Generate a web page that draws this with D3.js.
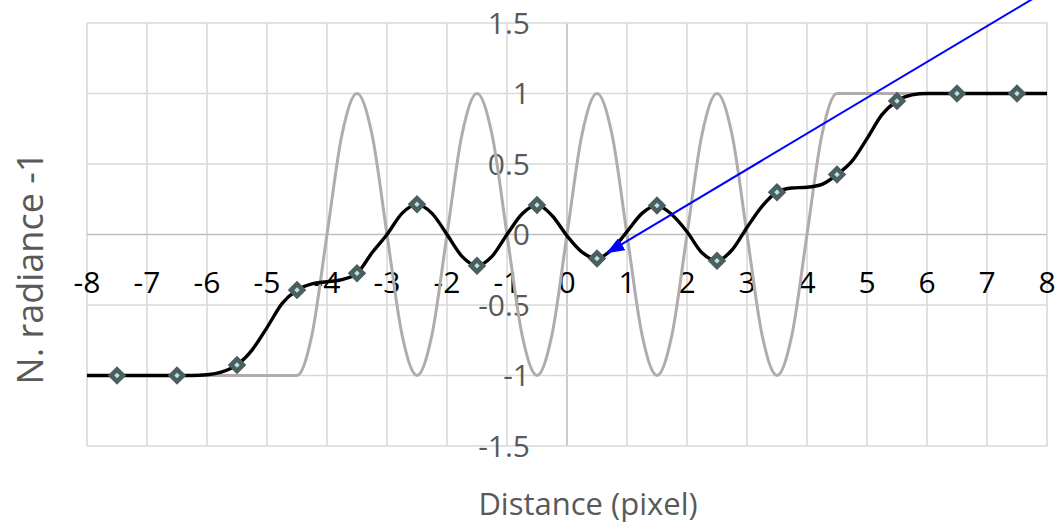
<!DOCTYPE html>
<html>
<head>
<meta charset="utf-8">
<script src="https://cdn.jsdelivr.net/npm/d3@7/dist/d3.min.js"></script>
<style>
  body { margin: 0; background: #ffffff; }
  svg { display: block; }
  text { font-family: "Open Sans", "Liberation Sans", sans-serif; }
</style>
</head>
<body>
<svg id="chart" width="1059" height="525"></svg>
<script>
// Sample positions along the profile (pixels)
const distance = [
  -8, -7.75, -7.5, -7.25, -7, -6.75, -6.5, -6.25,
  -6, -5.75, -5.5, -5.25, -5, -4.75, -4.5, -4.25,
  -4, -3.75, -3.5, -3.25, -3, -2.75, -2.5, -2.25,
  -2, -1.75, -1.5, -1.25, -1, -0.75, -0.5, -0.25,
  0, 0.25, 0.5, 0.75, 1, 1.25, 1.5, 1.75,
  2, 2.25, 2.5, 2.75, 3, 3.25, 3.5, 3.75,
  4, 4.25, 4.5, 4.75, 5, 5.25, 5.5, 5.75,
  6, 6.25, 6.5, 6.75, 7, 7.25, 7.5, 7.75, 8
];

// Original (unfiltered) edge pattern, grey line
const ideal = [
  -1, -1, -1, -1, -1, -1, -1, -1,
  -1, -1, -1, -1, -1, -1, -1, -0.71,
  0, 0.71, 1, 0.71, 0, -0.71, -1, -0.71,
  0, 0.71, 1, 0.71, 0, -0.71, -1, -0.71,
  0, 0.71, 1, 0.71, 0, -0.71, -1, -0.71,
  0, 0.71, 1, 0.71, 0, -0.71, -1, -0.71,
  0, 0.71, 1, 1, 1, 1, 1, 1,
  1, 1, 1, 1, 1, 1, 1, 1, 1
];

// Sampled / filtered radiance, black line
const filtered = [
  -1, -1, -1, -1, -1, -1, -1, -1,
  -0.995, -0.975, -0.925, -0.82, -0.66, -0.49, -0.394, -0.35,
  -0.335, -0.32, -0.275, -0.13, 0, 0.15, 0.214, 0.15,
  0, -0.155, -0.221, -0.155, 0, 0.145, 0.21, 0.135,
  -0.01, -0.125, -0.17, -0.105, 0.02, 0.15, 0.205, 0.14,
  0.02, -0.13, -0.186, -0.11, 0.05, 0.2, 0.30, 0.33,
  0.335, 0.355, 0.425, 0.52, 0.68, 0.85, 0.947, 0.99,
  1, 1, 1, 1, 1, 1, 1, 1, 1
];

// Pixel centres where the samples are marked
const sampleCentres = [-7.5, -6.5, -5.5, -4.5, -3.5, -2.5, -1.5, -0.5,
                       0.5, 1.5, 2.5, 3.5, 4.5, 5.5, 6.5, 7.5];

// Axis ticks and labels
const xTickValues = [-8, -7, -6, -5, -4, -3, -2, -1, 0, 1, 2, 3, 4, 5, 6, 7, 8];
const xTickLabels = ["-8", "-7", "-6", "-5", "-4", "-3", "-2", "-1", "0",
                     "1", "2", "3", "4", "5", "6", "7", "8"];
const yTickValues = [1.5, 1, 0.5, 0, -0.5, -1, -1.5];
const yTickLabels = ["1.5", "1", "0.5", "0", "-0.5", "-1", "-1.5"];

// Callout arrow pointing at the sample at 0.5 px (data units)
const arrowFrom = [7.93, 1.714];
const arrowTo = [0.67, -0.13];

const svg = d3.select("#chart");

const x = d3.scaleLinear().domain([-8, 8]).range([87, 1047]);
const y = d3.scaleLinear().domain([-1.5, 1.5]).range([446, 23]);

const gridColor = "#d9d9d9";
const axisColor = "#bfbfbf";
const labelGrey = "#595959";

// Gridlines
const grid = svg.append("g");
grid.selectAll("line.v").data(xTickValues).join("line")
  .attr("x1", d => x(d)).attr("x2", d => x(d))
  .attr("y1", y(1.5)).attr("y2", y(-1.5))
  .attr("stroke", d => d === 0 ? axisColor : gridColor)
  .attr("stroke-width", 1.6);
grid.selectAll("line.h").data(yTickValues).join("line")
  .attr("y1", d => y(d)).attr("y2", d => y(d))
  .attr("x1", x(-8)).attr("x2", x(8))
  .attr("stroke", d => d === 0 ? axisColor : gridColor)
  .attr("stroke-width", 1.6);

// Tick labels
svg.append("g").selectAll("text").data(xTickValues).join("text")
  .attr("x", d => x(d))
  .attr("y", y(0) + 58.5)
  .attr("text-anchor", "middle")
  .attr("font-size", 30)
  .attr("fill", "#000000")
  .text((d, i) => xTickLabels[i]);

svg.append("g").selectAll("text").data(yTickValues).join("text")
  .attr("x", x(0) - 37)
  .attr("y", d => y(d) + 10.7)
  .attr("text-anchor", "end")
  .attr("font-size", 30)
  .attr("fill", labelGrey)
  .text((d, i) => yTickLabels[i]);

// Axis titles
svg.append("text")
  .attr("transform", "translate(43,268) rotate(-90)")
  .attr("text-anchor", "middle")
  .attr("font-size", 36)
  .attr("fill", labelGrey)
  .text("N. radiance -1");

svg.append("text")
  .attr("x", 588)
  .attr("y", 515)
  .attr("text-anchor", "middle")
  .attr("font-size", 31)
  .attr("fill", labelGrey)
  .text("Distance (pixel)");

// Lines
const line = series => d3.line()
  .x((d, i) => x(distance[i]))
  .y(d => y(d))
  .curve(d3.curveMonotoneX)(series);

svg.append("path")
  .attr("d", line(ideal))
  .attr("fill", "none")
  .attr("stroke", "#b0acac")
  .attr("stroke-width", 3);

svg.append("path")
  .attr("d", line(filtered))
  .attr("fill", "none")
  .attr("stroke", "#000000")
  .attr("stroke-width", 3.4)
  .attr("stroke-linejoin", "round");

// Sample markers (diamonds)
const diamond = d3.symbol().type(d3.symbolSquare).size(72);
svg.append("g").selectAll("path").data(sampleCentres).join("path")
  .attr("d", diamond)
  .attr("transform", d => `translate(${x(d)},${y(filtered[distance.indexOf(d)])}) rotate(45)`)
  .attr("fill", "#b9e3e6")
  .attr("stroke", "#4b5f60")
  .attr("stroke-width", 4.6)
  .attr("stroke-linejoin", "miter");

// Callout arrow
svg.append("defs").append("marker")
  .attr("id", "arrowhead")
  .attr("markerUnits", "userSpaceOnUse")
  .attr("viewBox", "0 0 18 14")
  .attr("markerWidth", 18)
  .attr("markerHeight", 14)
  .attr("refX", 17)
  .attr("refY", 7)
  .attr("orient", "auto")
  .append("path")
  .attr("d", "M0,0 L18,7 L0,14 Z")
  .attr("fill", "#0000ff");

svg.append("line")
  .attr("x1", x(arrowFrom[0])).attr("y1", y(arrowFrom[1]))
  .attr("x2", x(arrowTo[0])).attr("y2", y(arrowTo[1]))
  .attr("stroke", "#0000ff")
  .attr("stroke-width", 2)
  .attr("marker-end", "url(#arrowhead)");
</script>
</body>
</html>
